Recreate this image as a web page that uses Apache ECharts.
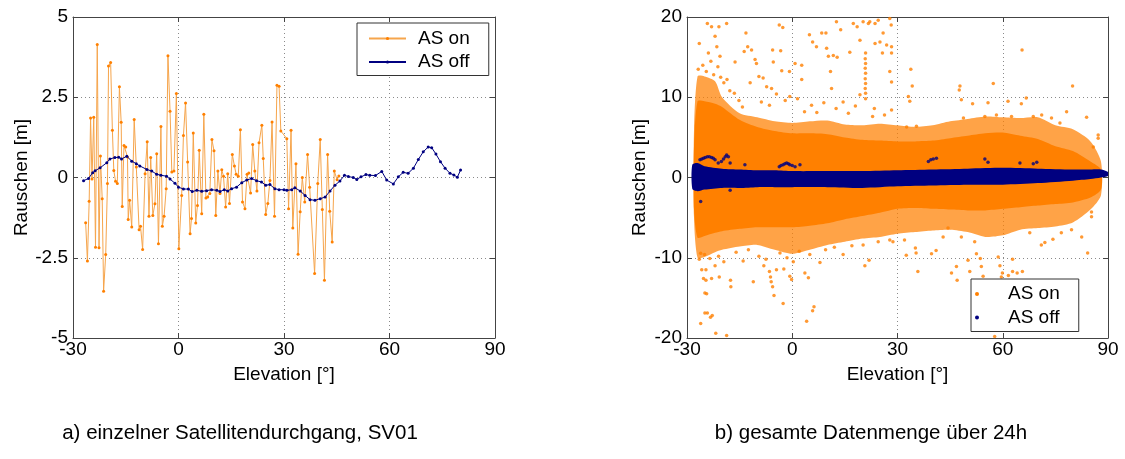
<!DOCTYPE html>
<html>
<head>
<meta charset="utf-8">
<script src="https://cdn.jsdelivr.net/npm/echarts@6/dist/echarts.min.js"></script>
<style>
  html, body { margin: 0; padding: 0; background: #fff; }
  #chart { width: 1125px; height: 459px; }
</style>
</head>
<body>
<div id="chart"></div>
<script>
// ---------- a) single satellite pass, SV01 ----------
const passOnElev = [-26.4, -25.9, -25.4, -25.0, -24.6, -24.1, -23.6, -23.1, -22.6, -22.2, -21.7, -21.3, -20.7, -20.2,
  -19.9, -19.3, -18.8, -18.4, -17.9, -17.4, -16.8, -16.3, -16.0, -15.5, -15.0, -14.5, -14.3, -13.9, -13.3, -12.6,
  -12.0, -11.2, -10.8, -10.2, -9.5, -8.9, -8.4, -7.9, -7.3, -6.7, -6.2, -5.7, -5.0, -4.6, -4.1, -3.5, -3.0, -2.4,
  -1.9, -1.3, -0.6, 0.1, 0.9, 1.4, 2.0, 2.6, 3.3, 3.7, 4.2, 4.9, 5.4, 5.9, 6.6, 7.2, 7.8, 8.3, 8.9, 9.5, 10.1,
  10.6, 11.2, 11.8, 12.3, 12.8, 13.4, 14.0, 14.5, 15.3, 15.9, 16.4, 17.0, 17.6, 18.2, 18.9, 19.5, 20.0, 20.5,
  21.1, 21.7, 22.3, 22.9, 23.7, 24.1, 24.8, 25.4, 26.0, 26.6, 27.3, 28.0, 28.6, 29.1, 30.8, 31.3, 32.0, 32.5,
  33.4, 34.0, 34.6, 35.2, 35.9, 36.7, 37.3, 38.7, 39.6, 40.3, 40.9, 41.5, 42.4, 43.0, 43.7, 44.3, 45.1, 45.6];
const passOnNoise = [-1.41, -2.60, -0.74, 1.85, -0.05, 1.88, -2.17, 4.14, -2.19, 0.67, -0.66, -3.54, -2.40, -0.19,
  3.47, 3.58, 1.47, 0.22, -0.12, -0.19, 2.83, 1.72, -0.90, 1.00, 0.95, 0.64, -1.31, -0.71, -1.54, 1.81,
  0.33, -1.63, -1.52, -2.24, 0.12, 1.11, -1.21, 0.62, -1.18, -0.82, 0.74, -2.06, 1.59, -1.52, -1.21, -0.35, 3.79, 2.06,
  0.17, 0.20, 2.62, -2.22, -0.56, 1.31, 2.32, 0.48, -1.75, -1.28, 1.39, -1.42, -0.87, 0.85, -1.13, 1.97, -0.64, -0.61, -0.50, 1.18, 0.83,
  -1.18, 0.20, -0.50, 0.24, 0.04, -0.92, 0.12, -0.81, 0.72, 0.36, 0.10, 0.04, 1.49, -0.76, -0.97, 0.10, 0.14, -0.48,
  1.03, 0.20, -0.42, 1.08, 1.63, 0.59, -1.15, -0.81, -0.09, 1.73, -1.21, 2.87, 2.84, 1.45, 1.21, -0.97, 1.47, -1.57,
  0.43, -2.39, -1.07, 0.00, -0.76, 0.72, -0.30, -2.99, -0.19, 1.18, -1.00, -3.20, 0.72, -1.05, -2.01, 0.20, -0.07, 0.05];

const passOffElev = [-27.0, -25.6, -24.4, -23.7, -22.3, -20.4, -19.5, -18.1, -17.0, -16.2, -14.7, -13.3, -12.0, -11.0,
  -9.0, -7.6, -6.2, -5.0, -3.4, -2.4, -1.0, 0.0, 1.4, 2.8, 3.9, 5.2, 6.6, 8.0, 9.4, 10.9, 11.8, 13.0, 14.0, 15.1,
  16.5, 18.0, 19.4, 20.8, 22.2, 23.6, 24.8, 26.0, 27.4, 28.6, 30.0, 30.8, 32.2, 33.1, 34.6, 36.0, 37.4, 38.8, 40.3,
  41.7, 43.1, 44.5, 45.9, 47.2, 48.3, 49.7, 50.7, 51.9, 53.3, 54.4, 56.0, 57.8, 59.2, 61.1, 62.5, 63.9, 65.3, 66.8,
  68.2, 69.6, 71.0, 72.0, 73.2, 74.5, 75.8, 77.2, 78.3, 79.3, 80.2];
const passOffNoise = [-0.10, -0.03, 0.15, 0.21, 0.30, 0.46, 0.58, 0.62, 0.63, 0.58, 0.66, 0.51, 0.43, 0.36,
  0.25, 0.20, 0.10, 0.07, 0.04, -0.05, -0.18, -0.30, -0.36, -0.36, -0.44, -0.40, -0.43, -0.41, -0.38, -0.40, -0.44, -0.38, -0.42, -0.35,
  -0.30, -0.16, -0.08, -0.03, -0.10, -0.14, -0.24, -0.22, -0.35, -0.38, -0.38, -0.40, -0.38, -0.32, -0.42, -0.56, -0.69, -0.71, -0.66,
  -0.61, -0.42, -0.24, -0.11, 0.07, 0.03, 0.00, -0.06, 0.02, 0.09, 0.07, 0.06, 0.19, -0.08, -0.20, 0.02, 0.16, 0.13, 0.29,
  0.56, 0.80, 0.95, 0.93, 0.73, 0.49, 0.29, 0.13, 0.08, 0.01, 0.23];

// ---------- b) full 24 h data set ----------
// dense part of the AS-on cloud: solid core and speckled fringe (upper / lower limits per elevation)
const cloudElev = [-28, -27, -25, -22, -20, -15, -10, -5, 0, 5, 10, 15, 20, 25, 30, 35, 40, 45, 50, 55, 60, 65, 70, 75, 80, 85, 88];
const onFringeHi = [6.0, 12.6, 12.6, 12.0, 10.0, 8.0, 7.5, 7.0, 6.8, 7.0, 7.1, 6.6, 6.5, 6.7, 6.5, 6.3, 6.5, 7.0, 7.3, 7.6, 7.5, 7.4, 7.5, 6.5, 6.0, 4.5, 2.0];
const onCoreHi = [4.0, 9.5, 9.5, 9.2, 8.8, 7.2, 6.3, 5.8, 5.5, 5.5, 5.4, 5.0, 4.7, 4.6, 4.5, 4.5, 4.6, 4.9, 5.2, 5.5, 5.6, 5.2, 4.8, 3.9, 3.3, 2.0, 1.0];
const onCoreLo = [-4.0, -7.5, -7.3, -6.9, -6.7, -6.4, -6.2, -6.2, -6.2, -6.0, -5.7, -5.2, -4.8, -4.4, -3.9, -3.8, -3.9, -4.0, -4.1, -4.1, -3.9, -3.7, -3.5, -3.3, -3.1, -2.5, -1.5];
const onFringeLo = [-5.0, -10.0, -9.9, -9.3, -9.0, -8.6, -8.4, -9.0, -9.5, -9.0, -8.4, -8.0, -7.6, -7.4, -7.0, -6.8, -6.6, -6.5, -6.8, -7.4, -7.2, -6.5, -6.3, -6.1, -5.6, -4.0, -2.2];

// isolated AS-on samples outside the dense cloud [elevation, noise]
const onSparse = [
  [-24.2, 19.2], [-23.0, 18.8], [-20.9, 18.8], [-18.7, 19.2], [-26.5, 16.7], [-22.0, 17.6], [-21.5, 16.3], [-23.9, 15.5],
  [-20.6, 15.1], [-16.3, 14.4], [-13.7, 15.7], [-12.7, 16.3], [-11.6, 15.9], [-10.6, 14.7], [-10.2, 14.2], [-13.2, 18.0],
  [-3.7, 19.0], [-2.7, 18.7], [-5.6, 15.9], [-3.3, 15.8], [-5.4, 14.4], [-3.0, 13.3], [-0.8, 13.2], [0.8, 14.2],
  [2.7, 14.0], [2.7, 12.2], [-0.7, 10.1], [4.9, 17.8], [5.8, 16.9], [6.9, 16.3], [8.4, 18.0], [9.6, 18.0], [9.8, 16.1],
  [12.6, 19.4], [13.8, 18.4], [17.4, 19.2], [18.5, 18.8], [20.2, 19.4], [21.7, 19.2], [10.3, 15.1], [11.7, 15.2],
  [12.8, 15.0], [16.4, 15.6], [19.3, 17.1], [20.9, 15.5], [20.8, 14.8], [20.9, 14.2], [20.8, 13.6], [20.9, 13.0],
  [20.8, 12.3], [20.9, 11.7], [20.8, 11.1], [20.9, 10.5], [20.9, 9.8], [10.9, 13.2], [11.2, 11.1], [19.3, 10.3],
  [22.1, 19.4], [23.6, 19.2], [24.5, 19.6], [27.8, 19.8], [28.2, 19.0], [25.9, 18.0], [25.0, 16.9], [26.9, 16.5],
  [28.3, 16.3], [28.3, 15.5], [25.7, 15.5], [23.6, 16.7], [27.8, 13.2], [28.3, 11.9], [33.8, 13.5], [34.2, 11.4],
  [33.1, 10.1], [33.5, 9.5], [47.8, 11.4], [47.6, 10.9], [57.3, 11.7], [65.5, 15.9], [79.9, 11.4], [48.2, 9.7],
  [51.4, 9.2], [55.8, 9.3], [61.5, 9.5], [65.3, 9.2], [66.7, 9.9], [78.2, 8.2], [83.9, 7.5], [87.2, 5.3], [87.2, 4.9],
  [23.4, 8.6], [22.9, 7.6], [26.3, 7.8], [28.3, 8.4], [32.6, 6.3], [35.4, 6.4], [48.8, 7.4], [54.9, 7.6], [58.2, 7.8],
  [62.5, 7.6], [68.7, 7.6], [71.1, 7.8], [73.9, 7.4], [76.3, 6.8], [85.8, 3.8],
  [-26.8, 13.5], [-25.5, 14.0], [-24.5, 13.2], [-23.2, 14.5], [-22.4, 12.8], [-21.2, 13.8], [-20.4, 12.5], [-19.5, 11.8],
  [-18.6, 12.2], [-17.8, 10.8], [-16.5, 10.5], [-15.2, 9.6], [-14.2, 8.8], [-12.0, 11.8], [-9.5, 12.6], [-8.3, 12.4],
  [-7.3, 11.3], [-5.9, 11.1], [-4.5, 10.4], [-8.8, 9.4], [-6.5, 9.0], [-2.0, 9.6], [1.5, 9.8], [3.5, 8.2], [5.5, 9.0],
  [7.0, 8.1], [9.0, 9.3], [12.5, 8.6], [14.5, 9.4], [16.0, 8.0], [18.0, 8.9],
  [-26.1, -9.45], [-25.8, -11.5], [-24.6, -11.5], [-25.3, -12.6], [-24.6, -12.8], [-23.0, -12.6], [-20.8, -12.4],
  [-24.9, -14.4], [-24.4, -14.5], [-17.6, -12.8], [-17.5, -13.6], [-11.1, -13.0], [-24.9, -16.9], [-24.2, -16.9],
  [-23.3, -17.4], [-22.8, -17.2], [-26.1, -18.2], [-21.8, -19.4], [-18.7, -19.7], [-6.5, -11.7], [-6.2, -12.4],
  [-6.0, -13.0], [-5.6, -13.6], [-5.2, -14.7], [-2.6, -15.7], [-2.4, -11.4], [-0.7, -12.3], [-0.2, -12.7], [3.6, -11.9],
  [4.6, -12.5], [6.2, -16.1], [5.8, -16.6], [4.1, -17.9], [20.7, -11.0], [21.9, -10.3], [-8.1, -11.0], [-4.5, -11.5],
  [0.3, -10.5], [7.9, -10.6], [-22.0, -11.0],
  [27.8, -7.8], [32.5, -9.7], [35.1, -8.8], [35.3, -9.4], [35.8, -11.7], [39.7, -9.5], [41.0, -9.1], [45.4, -11.9],
  [46.8, -11.1], [47.0, -12.8], [50.1, -10.3], [50.6, -11.7], [52.5, -9.5], [53.6, -10.1], [53.9, -11.1], [54.4, -12.3],
  [57.7, -19.8], [58.7, -9.9], [59.2, -11.0], [59.9, -11.9], [59.6, -12.4], [61.6, -12.2], [62.8, -11.7], [64.1, -11.9],
  [65.6, -11.7], [62.8, -10.2], [71.0, -8.4], [72.0, -8.1], [76.7, -6.9], [82.5, -7.4], [84.2, -9.4], [85.3, -4.9],
  [85.3, -4.3], [20.2, -8.4], [24.5, -8.0], [28.7, -8.0], [32.0, -7.8], [43.0, -7.4], [44.4, -6.3], [48.2, -7.4],
  [52.0, -8.0], [67.7, -6.9], [74.3, -7.7], [79.6, -6.5],
  [-26.5, -10.2], [-25.0, -9.6], [-23.5, -10.1], [-21.0, -9.8], [-19.5, -10.5], [-16.0, -9.3], [-14.0, -10.4],
  [-12.5, -9.0], [-9.5, -9.8], [-7.5, -10.2], [-3.5, -9.4], [-1.5, -10.0], [2.0, -9.2], [5.0, -9.6], [9.5, -9.0],
  [12.0, -8.7], [14.5, -9.6], [17.0, -8.5]
];

// AS-off band (upper / lower limits) and the small arcs that leave it
const offBandElev = [-28.5, -27, -25, -20, -15, -10, -5, 0, 10, 20, 30, 40, 50, 60, 70, 80, 85, 88, 90];
const offBandHi = [1.6, 1.8, 1.4, 1.1, 1.0, 0.9, 0.9, 0.8, 0.8, 0.8, 0.9, 1.0, 1.1, 1.2, 1.1, 1.0, 1.0, 1.0, 0.7];
const offBandLo = [-1.4, -1.7, -1.5, -1.3, -1.3, -1.2, -1.2, -1.2, -1.2, -1.3, -1.1, -1.0, -0.9, -0.9, -0.7, -0.4, -0.2, 0.0, 0.2];
const offArcs = [
  [-26.3, 2.2], [-25.8, 2.3], [-25.3, 2.4], [-24.8, 2.5], [-24.2, 2.6], [-23.6, 2.6], [-23.0, 2.5], [-22.5, 2.4],
  [-22.0, 2.2], [-21.1, 1.8], [-20.2, 2.0], [-19.6, 2.3], [-19.1, 2.6], [-18.7, 2.8], [-18.2, 2.6], [-17.7, 1.8],
  [-13.5, 1.6], [-3.7, 1.35], [-3.2, 1.5], [-2.6, 1.6], [-2.1, 1.7], [-1.6, 1.8], [-1.1, 1.7], [-0.7, 1.6], [0.0, 1.5],
  [0.8, 1.35], [2.2, 1.6], [38.8, 2.0], [39.5, 2.2], [40.2, 2.3], [41.1, 2.4], [54.9, 2.3], [55.8, 1.9], [64.9, 1.8],
  [68.7, 1.7], [69.7, 1.9], [-17.7, -1.6], [-26.1, -3.0]
];

// tick values
const elevTicks = { min: -30, max: 90, interval: 30 };
const passTicks = { min: -5, max: 5, interval: 2.5 };
const dayTicks = { min: -20, max: 20, interval: 10 };

const ORANGE = '#ff8000';
const ORANGE_LINE = '#f6a54c';
const NAVY = '#000080';
const FONT = "'Liberation Sans', Arial, sans-serif";
const FRAME = '#444';

const pairs = (xs, ys) => xs.map((x, i) => [x, ys[i]]);

// closed polygon between an upper and a lower limit, placed through the axis scales
function bandRenderer(xs, hi, lo, fill) {
  return function (params, api) {
    const pts = [];
    for (let i = 0; i < xs.length; i++) pts.push(api.coord([xs[i], hi[i]]));
    for (let i = xs.length - 1; i >= 0; i--) pts.push(api.coord([xs[i], lo[i]]));
    return { type: 'polygon', shape: { points: pts, smooth: 0.25 }, style: { fill: fill } };
  };
}

function xAxes(gridIndex) {
  return [
    {
      gridIndex, type: 'value', position: 'bottom', ...elevTicks,
      name: 'Elevation [°]', nameLocation: 'middle', nameGap: 27,
      nameTextStyle: { fontFamily: FONT, fontSize: 19, color: '#000' },
      axisLine: { show: true, onZero: false, lineStyle: { color: FRAME, width: 1 } },
      axisTick: { show: true, inside: true, length: 5, lineStyle: { color: FRAME } },
      axisLabel: { fontFamily: FONT, fontSize: 19, color: '#000', margin: 2, showMinLabel: true, showMaxLabel: true },
      splitLine: { show: true, lineStyle: { type: [1, 3], color: '#8a8a8a', width: 1 } }
    },
    {
      gridIndex, type: 'value', position: 'top', ...elevTicks,
      axisLine: { show: true, onZero: false, lineStyle: { color: FRAME, width: 1 } },
      axisTick: { show: true, inside: true, length: 5, lineStyle: { color: FRAME } },
      axisLabel: { show: false }, splitLine: { show: false }
    }
  ];
}

function yAxes(gridIndex, ticks, nameGap) {
  return [
    {
      gridIndex, type: 'value', position: 'left', ...ticks,
      name: 'Rauschen [m]', nameLocation: 'middle', nameGap: nameGap,
      nameTextStyle: { fontFamily: FONT, fontSize: 19, color: '#000' },
      axisLine: { show: true, onZero: false, lineStyle: { color: FRAME, width: 1 } },
      axisTick: { show: true, inside: true, length: 5, lineStyle: { color: FRAME } },
      axisLabel: { fontFamily: FONT, fontSize: 19, color: '#000', margin: 5, showMinLabel: true, showMaxLabel: true },
      splitLine: { show: true, lineStyle: { type: [1, 3], color: '#8a8a8a', width: 1 } }
    },
    {
      gridIndex, type: 'value', position: 'right', ...ticks,
      axisLine: { show: true, onZero: false, lineStyle: { color: FRAME, width: 1 } },
      axisTick: { show: true, inside: true, length: 5, lineStyle: { color: FRAME } },
      axisLabel: { show: false }, splitLine: { show: false }
    }
  ];
}

const legendBase = {
  orient: 'vertical', itemHeight: 4, itemGap: 4.5,
  backgroundColor: '#fff', borderColor: '#333', borderWidth: 1, borderRadius: 0,
  textStyle: { fontFamily: FONT, fontSize: 19, color: '#000' },
  selectedMode: false
};

const chart = echarts.init(document.getElementById('chart'), null, { renderer: 'canvas' });
chart.setOption({
  animation: false,
  backgroundColor: '#fff',
  grid: [
    { left: 73, top: 17, width: 422, height: 321 },
    { left: 687, top: 17, width: 421, height: 321 }
  ],
  xAxis: [...xAxes(0), ...xAxes(1)],
  yAxis: [...yAxes(0, passTicks, 42), ...yAxes(1, dayTicks, 38)],
  legend: [
    {
      ...legendBase, left: 357, top: 23, itemWidth: 37,
      padding: [6, 19, 4, 11],
      textStyle: { ...legendBase.textStyle, padding: [0, 0, 0, 7] },
      data: ['AS on', 'AS off']
    },
    {
      ...legendBase, left: 971, top: 279, itemWidth: 52,
      padding: [5.5, 19, 4.5, 4],
      data: [{ name: 'AS on', icon: 'circle' }, { name: 'AS off', icon: 'circle' }]
    }
  ],
  graphic: [
    { type: 'text', x: 240, y: 433, style: { text: 'a) einzelner Satellitendurchgang, SV01', font: '20.5px ' + FONT, fill: '#000', align: 'center', verticalAlign: 'middle' } },
    { type: 'text', x: 871, y: 433, style: { text: 'b) gesamte Datenmenge über 24h', font: '20.5px ' + FONT, fill: '#000', align: 'center', verticalAlign: 'middle' } }
  ],
  series: [
    {
      type: 'line', name: 'AS on', xAxisIndex: 0, yAxisIndex: 0,
      data: pairs(passOnElev, passOnNoise),
      symbol: 'circle', symbolSize: 3, showSymbol: true,
      lineStyle: { color: ORANGE_LINE, width: 1 },
      itemStyle: { color: ORANGE, borderWidth: 0 }, z: 2
    },
    {
      type: 'line', name: 'AS off', xAxisIndex: 0, yAxisIndex: 0,
      data: pairs(passOffElev, passOffNoise),
      symbol: 'circle', symbolSize: 3, showSymbol: true,
      lineStyle: { color: NAVY, width: 1 },
      itemStyle: { color: NAVY, borderWidth: 0 }, z: 3
    },
    {
      type: 'custom', xAxisIndex: 2, yAxisIndex: 2, clip: true, silent: true, z: 2,
      renderItem: bandRenderer(cloudElev, onFringeHi, onFringeLo, 'rgba(255,128,0,0.72)'),
      data: [[cloudElev[0], onFringeHi[0]]]
    },
    {
      type: 'custom', xAxisIndex: 2, yAxisIndex: 2, clip: true, silent: true, z: 2,
      renderItem: bandRenderer(cloudElev, onCoreHi, onCoreLo, ORANGE),
      data: [[cloudElev[0], onCoreHi[0]]]
    },
    {
      type: 'scatter', name: 'AS on', xAxisIndex: 2, yAxisIndex: 2,
      data: onSparse, symbol: 'circle', symbolSize: 3.5,
      itemStyle: { color: ORANGE, borderWidth: 0 }, z: 3
    },
    {
      type: 'custom', xAxisIndex: 2, yAxisIndex: 2, clip: true, silent: true, z: 4,
      renderItem: bandRenderer(offBandElev, offBandHi, offBandLo, NAVY),
      data: [[offBandElev[0], offBandHi[0]]]
    },
    {
      type: 'scatter', name: 'AS off', xAxisIndex: 2, yAxisIndex: 2,
      data: offArcs, symbol: 'circle', symbolSize: 3.5,
      itemStyle: { color: NAVY, borderWidth: 0 }, z: 5
    }
  ]
});
</script>
</body>
</html>
